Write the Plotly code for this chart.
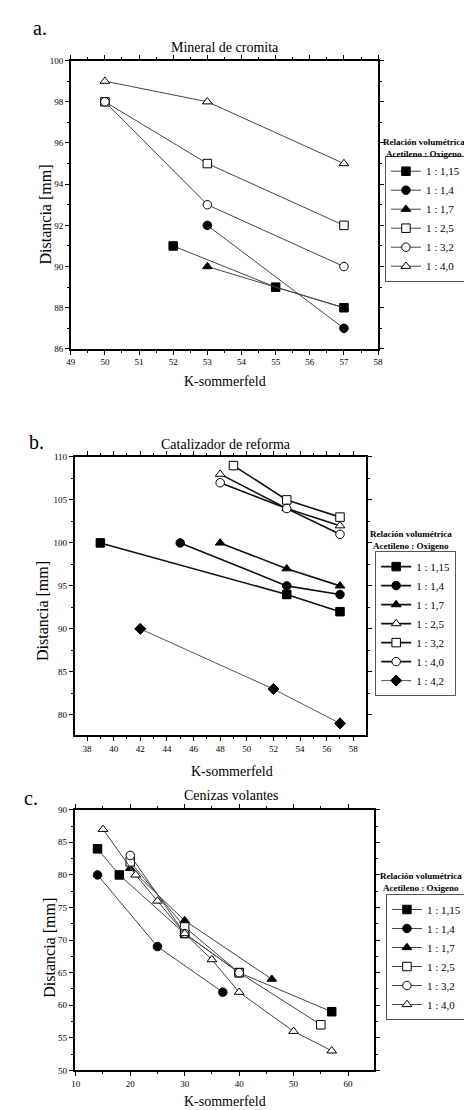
import plotly.graph_objects as go

FONT = "Liberation Serif"

# a. Mineral de cromita
labels_a = ["1 : 1,15", "1 : 1,4", "1 : 1,7", "1 : 2,5", "1 : 3,2", "1 : 4,0"]
x_a = [[52, 55, 57], [53, 57], [53, 57], [50, 53, 57], [50, 53, 57], [50, 53, 57]]
y_a = [[91, 89, 88], [92, 87], [90, 88], [98, 95, 92], [98, 93, 90], [99, 98, 95]]

# b. Catalizador de reforma
labels_b = ["1 : 1,15", "1 : 1,4", "1 : 1,7", "1 : 2,5", "1 : 3,2", "1 : 4,0", "1 : 4,2"]
x_b = [[39, 53, 57], [45, 53, 57], [48, 53, 57], [48, 53, 57], [49, 53, 57], [48, 53, 57], [42, 52, 57]]
y_b = [[100, 94, 92], [100, 95, 94], [100, 97, 95], [108, 104, 102], [109, 105, 103], [107, 104, 101], [90, 83, 79]]

# c. Cenizas volantes
labels_c = ["1 : 1,15", "1 : 1,4", "1 : 1,7", "1 : 2,5", "1 : 3,2", "1 : 4,0"]
x_c = [[14, 18, 30, 40, 57], [14, 25, 37], [20, 30, 46], [20, 30, 40, 55], [20, 30, 40],
       [15, 21, 25, 30, 35, 40, 50, 57]]
y_c = [[84, 80, 71, 65, 59], [80, 69, 62], [81, 73, 64], [82, 72, 65, 57], [83, 71, 65],
       [87, 80, 76, 71, 67, 62, 56, 53]]

# marker styles (symbol, fill)
sty_a = [("square", "black"), ("circle", "black"), ("triangle-up", "black"),
         ("square", "white"), ("circle", "white"), ("triangle-up", "white")]
sty_b = [("square", "black"), ("circle", "black"), ("triangle-up", "black"),
         ("triangle-up", "white"), ("square", "white"), ("circle", "white"), ("diamond", "black")]
sty_c = sty_a

W, H = 472, 1110


def px(x):
    return x / W


def py(y):
    return 1 - y / H


fig = go.Figure()


def add_panel(xs, ys, labels, styles, xa, ya, legend, widths, colors):
    for x, y, name, (sym, fill), lw, lc in zip(xs, ys, labels, styles, widths, colors):
        fig.add_trace(go.Scatter(
            x=x, y=y, name=name, mode="lines+markers", xaxis=xa, yaxis=ya, legend=legend,
            line=dict(color=lc, width=lw),
            marker=dict(symbol=sym, size=8.5, color=fill, line=dict(color="black", width=1)),
        ))


add_panel(x_a, y_a, labels_a, sty_a, "x", "y", "legend", [1] * 6, ["#444"] * 6)
add_panel(x_b, y_b, labels_b, sty_b, "x2", "y2", "legend2", [1.6] * 6 + [1], ["#111"] * 6 + ["#555"])
add_panel(x_c, y_c, labels_c, sty_c, "x3", "y3", "legend3", [1] * 6, ["#444"] * 6)


def axis(domain, rng, dtick, minor, anchor):
    return dict(domain=domain, range=rng, dtick=dtick, tick0=0, anchor=anchor,
                showline=True, linecolor="black", linewidth=1.5, mirror="ticks",
                ticks="outside", ticklen=4, tickwidth=1, tickcolor="black",
                minor=dict(dtick=minor, ticks="outside", ticklen=2, tickcolor="black"),
                showgrid=False, zeroline=False,
                tickfont=dict(family=FONT, size=9, color="black"))


leg = dict(font=dict(family=FONT, size=11, color="black"), bordercolor="#555", borderwidth=1,
           bgcolor="white", xanchor="left", yanchor="top", itemwidth=30, tracegroupgap=0)

fig.update_layout(
    width=W, height=H, margin=dict(l=0, r=0, t=0, b=0),
    plot_bgcolor="white", paper_bgcolor="white",
    font=dict(family=FONT, color="black"),
    xaxis=axis([px(59), px(373)], [49, 58], 1, 0.5, "y"),
    yaxis=axis([py(339), py(48)], [86, 100], 2, 1, "x"),
    xaxis2=axis([px(63), px(361)], [37.07, 58.98], 2, 1, "y2"),
    yaxis2=axis([py(729), py(448)], [77.6, 110], 5, 2.5, "x2"),
    xaxis3=axis([px(63), px(369)], [9.8, 64.8], 10, 5, "y3"),
    yaxis3=axis([py(1067), py(804)], [50, 90], 5, 2.5, "x3"),
    legend=dict(leg, x=px(380), y=py(144)),
    legend2=dict(leg, x=px(370), y=py(543)),
    legend3=dict(leg, x=px(381), y=py(889)),
)

notes = [
    ("a.", 28, 15, 20, 0), ("b.", 24, 433, 20, 0), ("c.", 18, 792, 20, 0),
    ("Mineral de cromita", 217, 35, 14, 0),
    ("Catalizador de reforma", 218, 435, 14, 0),
    ("Cenizas volantes", 223, 790, 14, 0),
    ("K-sommerfeld", 217, 372, 14, 0),
    ("K-sommerfeld", 224, 765, 14, 0),
    ("K-sommerfeld", 217, 1098, 14, 0),
    ("Distancia [mm]", 33, 203, 16, -90),
    ("Distancia [mm]", 30, 603, 16, -90),
    ("Distancia [mm]", 37, 943, 16, -90),
    ("<b>Relación volumétrica<br>Acetileno : Oxigeno</b>", 420, 136, 9, 0),
    ("<b>Relación volumétrica<br>Acetileno : Oxigeno</b>", 407, 532, 9, 0),
    ("<b>Relación volumétrica<br>Acetileno : Oxigeno</b>", 417, 877, 9, 0),
]
for text, x, y, size, ang in notes:
    fig.add_annotation(text=text, x=px(x), y=py(y), xref="paper", yref="paper",
                       showarrow=False, textangle=ang, xanchor="center", yanchor="middle",
                       font=dict(family=FONT, size=size, color="black"))

fig.write_html("out.html")
